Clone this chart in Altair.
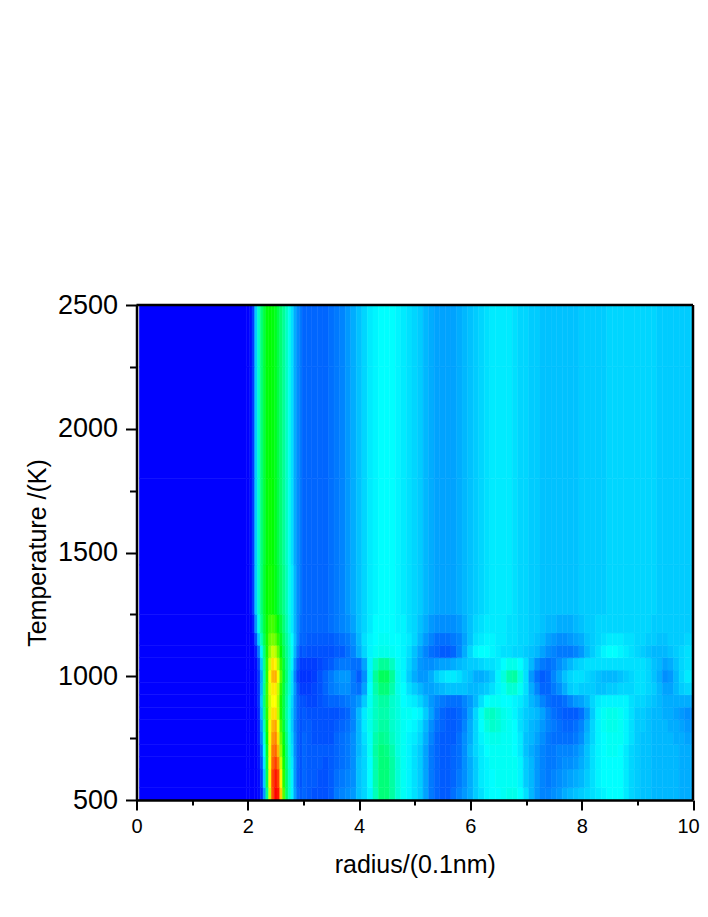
import altair as alt
import pandas as pd

# Radius columns: fine around the first peak, then every 0.1
RADII_PEAK = [2.00,2.05,2.10,2.15,2.20,2.25,2.30,2.35,2.40,2.45,2.50,2.55,2.60,2.65,2.70,2.75,2.80,2.85,2.90,2.95]
RADII_TAIL = [3.0,3.1,3.2,3.3,3.4,3.5,3.6,3.7,3.8,3.9,
              4.0,4.1,4.2,4.3,4.4,4.5,4.6,4.7,4.8,4.9,
              5.0,5.1,5.2,5.3,5.4,5.5,5.6,5.7,5.8,5.9,
              6.0,6.1,6.2,6.3,6.4,6.5,6.6,6.7,6.8,6.9,
              7.0,7.1,7.2,7.3,7.4,7.5,7.6,7.7,7.8,7.9,
              8.0,8.1,8.2,8.3,8.4,8.5,8.6,8.7,8.8,8.9,
              9.0,9.1,9.2,9.3,9.4,9.5,9.6,9.7,9.8,9.9,10.0]

T500 = [0,0,0,0,1,4,15,36,70,92,100,98,80,58,40,31,24,16,11,9,
        10,9,8,8,8,9,12,13,14,15, 19,21,24,32,38,38,34,29,26,24, 22,20,16,12,10,9,9,11,13,15,
        17,20,22,24,25,25,26,27,27,25, 22,18,15,13,13,14,15,17,18,19, 20,21,22,23,24,25,25,25,23,21,
        20,19,19,18,18,18,18,18,17,17,17]
T600 = [0,0,0,0,1,6,20,42,76,93,98,94,76,54,40,31,24,15,10,8,
        10,9,9,8,8,9,11,12,13,14, 19,21,25,33,38,38,34,29,26,24, 22,20,16,12,10,9,9,10,12,14,
        17,20,23,24,25,26,26,26,26,24, 20,18,15,13,12,13,14,15,16,17, 18,20,22,24,25,25,25,25,23,21,
        20,19,19,18,18,18,18,18,17,17,17]
T650 = [0,0,0,0,2,8,23,44,75,90,94,88,70,52,39,30,23,15,10,8,
        10,9,9,9,8,9,10,11,12,14, 19,21,25,33,38,38,34,29,26,24, 22,20,16,12,10,9,9,10,11,14,
        17,20,23,24,26,26,26,26,26,24, 20,18,15,13,12,12,13,14,14,15, 17,19,22,24,25,25,25,25,23,21,
        20,19,19,18,18,18,18,18,17,17,17]
T700 = [0,0,0,0,2,10,26,46,74,88,90,82,64,50,38,29,22,14,10,8,
        10,9,9,9,9,9,10,11,12,14, 18,21,26,34,38,37,33,28,26,24, 22,20,16,12,10,9,9,10,11,14,
        18,21,23,25,26,26,26,26,25,23, 19,17,15,13,12,12,13,13,13,14, 16,19,22,24,25,26,26,25,23,21,
        20,19,19,18,18,18,18,18,17,17,17]
T750 = [0,0,0,0,3,13,29,49,74,85,87,78,60,48,37,28,21,14,10,8,
        10,9,8,8,8,8,10,11,12,14, 18,22,26,33,36,35,31,28,26,24, 23,21,17,13,10,9,9,9,11,14,
        17,21,24,26,27,27,26,26,25,23, 19,18,16,14,12,11,11,11,11,12, 14,18,21,24,25,26,26,26,24,22,
        20,19,19,18,18,18,18,17,17,16,16]
T800 = [0,0,0,0,3,15,32,52,74,82,84,74,56,45,35,27,20,13,10,8,
        9,9,8,8,8,8,9,10,11,13, 18,23,27,31,34,34,30,28,26,25, 24,22,18,14,11,10,9,9,10,13,
        17,21,25,28,30,29,27,26,25,22, 20,18,17,15,13,12,11,10,10,11, 13,17,21,24,26,27,27,26,24,22,
        20,20,19,18,18,18,17,17,16,15,15]
T850 = [0,0,0,0,4,18,36,54,71,78,78,68,52,43,34,28,20,14,10,8,
        9,8,8,8,8,8,8,9,10,13, 18,23,27,31,33,33,30,28,26,26, 25,24,20,16,12,10,9,9,10,12,
        16,21,26,30,31,29,27,26,24,22, 20,19,18,16,13,11,10,9,9,9, 11,15,20,24,26,27,27,26,24,22,
        20,20,19,18,18,17,17,16,15,14,14]
T900 = [0,0,0,1,5,20,38,56,70,75,75,67,52,43,35,28,21,14,10,8,
        8,7,7,8,9,10,10,11,12,13, 15,20,26,31,34,34,30,28,25,24, 23,21,18,15,13,12,11,11,11,13,
        15,18,22,25,26,26,25,25,24,23, 21,18,16,13,11,10,10,11,13,15, 16,18,21,23,24,24,24,24,24,22,
        21,21,20,19,18,17,17,17,17,17,17]
T950 = [0,0,0,1,5,18,36,56,72,77,77,69,54,44,36,30,22,15,9,6,
        6,6,7,8,10,12,13,14,14,12, 11,16,25,33,38,38,33,27,25,22, 20,18,16,16,17,18,19,19,19,19,
        18,18,19,20,22,24,26,29,29,26, 22,17,13,10,10,12,14,17,20,21, 20,20,20,19,19,20,20,21,21,21,
        22,22,21,20,18,16,16,18,20,21,21]
T1000 = [0,0,0,1,5,17,34,54,74,82,83,74,58,46,38,30,22,13,7,5,
         5,5,6,8,10,12,14,15,15,12, 9,14,24,35,41,41,35,27,24,20, 17,15,15,17,20,22,23,23,22,20,
         19,17,17,18,20,24,28,33,34,28, 22,15,11,9,10,13,16,19,21,22, 22,21,20,19,18,18,18,19,20,21,
         22,22,21,19,17,14,15,18,21,23,23]
T1050 = [0,0,0,1,7,20,36,54,70,78,76,67,54,45,37,31,24,15,9,6,
         6,6,6,7,8,9,11,12,12,11, 11,16,24,31,35,35,31,26,24,21, 18,15,14,14,15,16,16,17,18,19,
         20,20,21,22,22,23,25,27,27,25, 22,18,14,12,11,12,14,16,18,20, 21,22,22,22,22,22,22,22,22,22,
         22,22,21,19,18,16,17,19,21,22,22]
T1100 = [0,0,0,3,12,24,38,52,64,70,68,60,50,42,36,31,26,18,12,8,
         9,8,8,8,8,8,9,9,11,13, 17,21,24,26,27,27,26,25,24,22, 19,16,13,11,10,9,9,10,13,17,
         21,24,25,25,24,23,22,22,21,21, 20,19,18,16,14,13,12,12,12,13, 15,18,20,22,24,25,25,24,23,22,
         21,20,19,18,18,18,19,20,21,22,22]
T1150 = [0,0,1,8,20,32,42,52,60,62,60,54,47,40,35,30,25,19,14,10,
         10,9,9,9,9,9,10,11,12,14, 18,22,24,25,26,26,25,25,24,23, 21,18,15,13,11,11,11,12,13,16,
         19,22,23,24,24,23,23,22,22,21, 21,20,19,18,16,15,14,14,15,16, 17,19,20,21,22,23,23,23,22,22,
         21,21,20,20,19,19,20,20,20,21,21]
T1200 = [0,0,3,15,27,36,44,51,56,57,54,49,44,38,33,28,23,18,14,11,
         10,10,10,10,10,11,12,13,14,16, 19,21,23,25,25,25,25,24,24,22, 21,19,17,15,14,14,14,14,15,17,
         19,21,22,23,23,23,23,22,22,21, 21,20,20,19,18,18,17,17,17,18, 19,20,20,21,21,21,21,21,21,21,
         21,21,21,20,20,20,20,20,20,20,20]
T1300 = [0,1,6,20,30,38,45,50,52,51,48,44,40,36,32,27,23,18,14,12,
         10,10,10,10,10,11,12,13,15,17, 19,21,23,24,25,25,25,24,23,22, 21,20,18,17,16,16,16,16,17,18,
         19,20,21,22,23,23,23,23,22,21, 21,20,20,19,19,19,19,19,19,19, 20,20,20,20,20,21,21,21,21,21,
         21,21,21,21,20,20,20,20,20,20,20]
T1600 = [0,1,6,20,30,38,44,49,51,50,47,43,39,35,31,27,22,17,14,12,
         10,10,10,10,10,11,12,13,15,17, 19,21,23,24,25,25,25,24,23,22, 21,20,18,17,16,16,16,16,17,18,
         19,20,21,22,23,23,23,23,22,21, 21,20,20,19,19,19,19,19,19,19, 20,20,20,20,20,21,21,21,21,21,
         21,21,21,21,20,20,20,20,20,20,20]
T2000 = [0,1,6,20,30,38,44,49,50,49,47,43,39,35,31,27,22,17,14,12,
         10,10,10,10,10,11,12,13,15,17, 19,21,23,24,25,25,25,24,23,22, 21,20,18,17,16,16,16,16,17,18,
         19,20,21,22,23,23,23,23,22,21, 21,20,20,19,19,19,19,19,19,19, 20,20,20,20,20,21,21,21,21,21,
         21,21,21,21,20,20,20,20,20,20,20]
T2500 = [0,1,6,20,30,38,44,49,50,49,47,43,39,35,31,27,22,17,14,12,
         10,10,10,10,10,11,12,13,15,17, 19,21,23,24,25,25,25,24,23,22, 21,20,18,17,16,16,16,16,17,18,
         19,20,21,22,23,23,23,23,22,21, 21,20,20,19,19,19,19,19,19,19, 20,20,20,20,20,21,21,21,21,21,
         21,21,21,21,20,20,20,20,20,20,20]

ROWS = {500:T500,600:T600,650:T650,700:T700,750:T750,800:T800,850:T850,900:T900,950:T950,1000:T1000,
        1050:T1050,1100:T1100,1150:T1150,1200:T1200,1300:T1300,1600:T1600,2000:T2000,2500:T2500}

COLOR_STOPS = [0, 25, 50, 75, 100]
COLORS = ["#0000ff", "#00ffff", "#00ff00", "#ffff00", "#ff0000"]
X_RANGE = [0, 10]
Y_RANGE = [500, 2500]
HEAT_START = 0.05
FRAME_COLOR = "#000000"
FONT = "Liberation Sans"

radii = RADII_PEAK + RADII_TAIL
x_edges = [(a + b) / 2 for a, b in zip(radii[:-1], radii[1:])]
x_lo = [2.0 - 0.025] + x_edges
x_hi = x_edges + [10.0]
temps = sorted(ROWS)
y_edges = [(a + b) / 2 for a, b in zip(temps[:-1], temps[1:])]
y_lo = [500] + y_edges
y_hi = y_edges + [2500]

records = []
for i, t in enumerate(temps):
    records.append(dict(r0=HEAT_START, r1=x_lo[0], t0=y_lo[i], t1=y_hi[i], v=0))
    for j in range(len(radii)):
        records.append(dict(r0=x_lo[j], r1=x_hi[j], t0=y_lo[i], t1=y_hi[i], v=ROWS[t][j]))
df = pd.DataFrame(records)

x_axis = alt.Axis(
    values=[0,1,2,3,4,5,6,7,8,9,10],
    labelExpr="datum.value % 2 === 0 ? datum.label : ''",
    labelOffset={"condition": {"test": "datum.value === 10", "value": -5}, "value": 0},
    title="radius/(0.1nm)", titleFontSize=25, titleFontWeight="normal", titleFont=FONT,
    titlePadding=16, labelFont=FONT, labelFontSize=20, labelPadding=6, labelColor="black",
    titleColor="black", tickColor="black", domainColor="black", domainWidth=2.5,
    tickWidth=2, tickSize={"condition": {"test": "datum.value % 2 === 0", "value": 10}, "value": 5},
    grid=False, zindex=2, labelFlush=False, labelOverlap=False,
)
y_axis = alt.Axis(
    values=[500,750,1000,1250,1500,1750,2000,2250,2500],
    labelExpr="datum.value % 500 === 0 ? datum.label : ''",
    format="d",
    title="Temperature /(K)", titleFontSize=25, titleFontWeight="normal", titleFont=FONT,
    titlePadding=7, labelFont=FONT, labelFontSize=27, labelPadding=8, labelColor="black",
    titleColor="black", tickColor="black", domainColor="black", domainWidth=2.5,
    tickWidth=2, tickSize={"condition": {"test": "datum.value % 500 === 0", "value": 11}, "value": 7},
    grid=False, zindex=2, labelFlush=False, labelOverlap=False,
)

color_scale = alt.Scale(domain=COLOR_STOPS, range=COLORS, interpolate="rgb")
heat = alt.Chart(df).mark_rect(strokeWidth=0.5).encode(
    x=alt.X("r0:Q", scale=alt.Scale(domain=X_RANGE, nice=False, zero=False), axis=x_axis),
    x2="r1:Q",
    y=alt.Y("t0:Q", scale=alt.Scale(domain=Y_RANGE, nice=False, zero=False), axis=y_axis),
    y2="t1:Q",
    color=alt.Color("v:Q", scale=color_scale, legend=None),
    stroke=alt.Stroke("v:Q", scale=color_scale, legend=None),
)

frame_data = pd.DataFrame({"top": [Y_RANGE[1]], "right": [X_RANGE[1]]})
top = alt.Chart(frame_data).mark_rule(color=FRAME_COLOR, strokeWidth=2.5).encode(y="top:Q")
right = alt.Chart(frame_data).mark_rule(color=FRAME_COLOR, strokeWidth=2.5).encode(x="right:Q")

chart = alt.layer(heat, top, right).properties(
    width=556.5, height=495,
    padding={"left": 128.5, "top": 297, "right": 7, "bottom": 100},
    autosize=alt.AutoSizeParams(type="none"),
).configure_view(stroke=None)

chart.save("out.html", embed_options={"renderer": "svg", "actions": False})
